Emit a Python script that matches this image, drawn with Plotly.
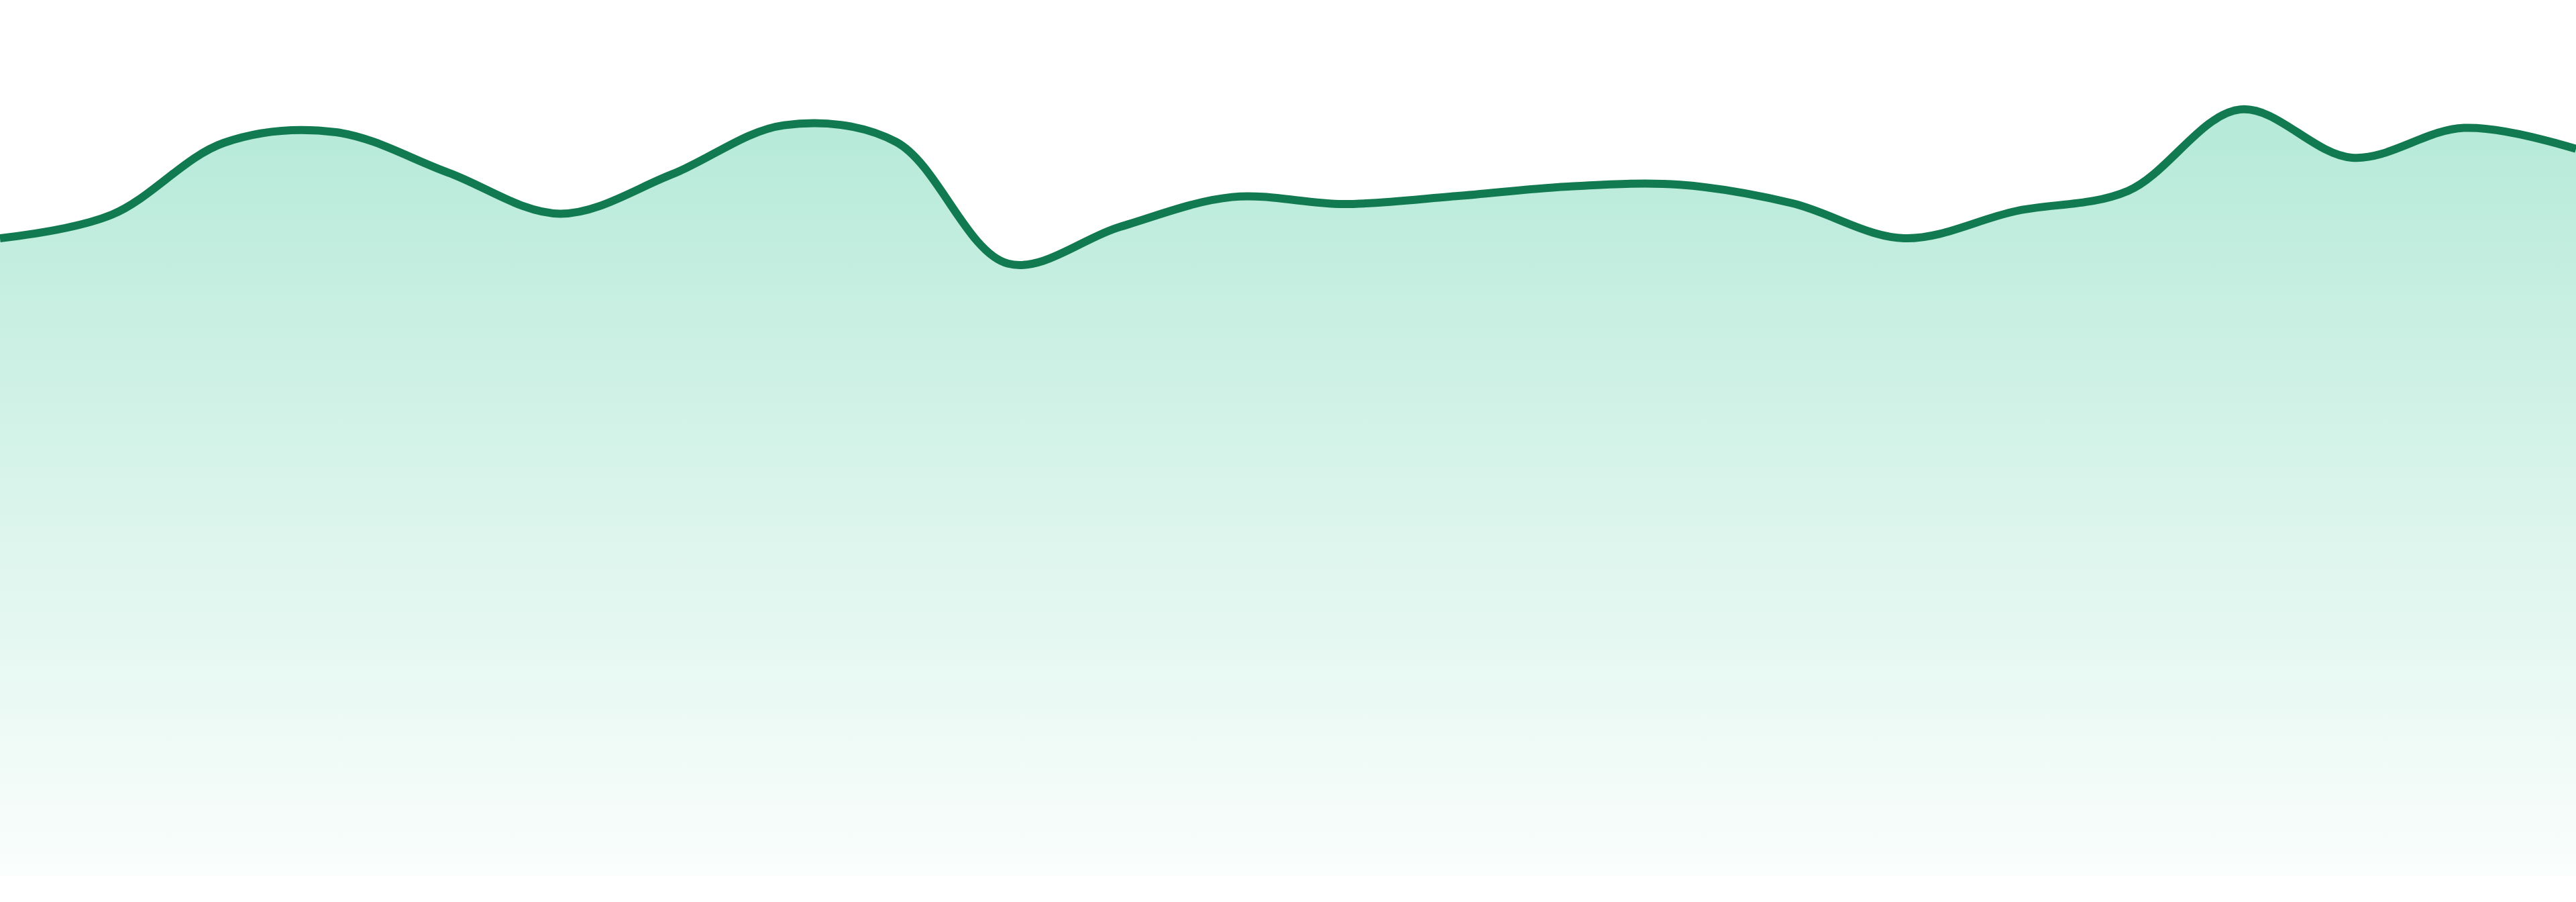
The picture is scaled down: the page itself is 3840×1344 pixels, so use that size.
import plotly.graph_objects as go

# valores (escala 0-100)
valores = [72.8, 75.5, 83.7, 84.9, 80.3, 75.6, 80.1, 85.7, 83.8, 69.9,
           74.1, 77.5, 76.7, 77.6, 78.7, 78.9, 76.8, 72.8, 75.9, 78.2,
           87.5, 82.0, 85.4, 83.0]
pontos = list(range(len(valores)))

LINHA = "#127a50"

fig = go.Figure(go.Scatter(
    x=pontos,
    y=valores,
    mode="lines",
    line=dict(color=LINHA, width=12, shape="spline", smoothing=1.0),
    fill="tozeroy",
    fillgradient=dict(
        type="vertical",
        start=0,
        stop=max(valores),
        colorscale=[[0, "rgba(16,185,129,0.02)"],
                    [0.5, "rgba(16,185,129,0.16)"],
                    [1, "rgba(16,185,129,0.31)"]],
    ),
    hoverinfo="skip",
    showlegend=False,
))

fig.update_layout(
    width=3840,
    height=1344,
    margin=dict(l=0, r=0, t=0, b=39),
    paper_bgcolor="white",
    plot_bgcolor="white",
    xaxis=dict(visible=False, range=[0, len(valores) - 1]),
    yaxis=dict(visible=False, range=[0, 100]),
)

# tira a margem do body para o grafico encostar nas bordas
fig.write_html(
    "out.html",
    config={"displayModeBar": False},
    post_script="document.body.style.margin='0';document.body.style.overflow='hidden';",
)
